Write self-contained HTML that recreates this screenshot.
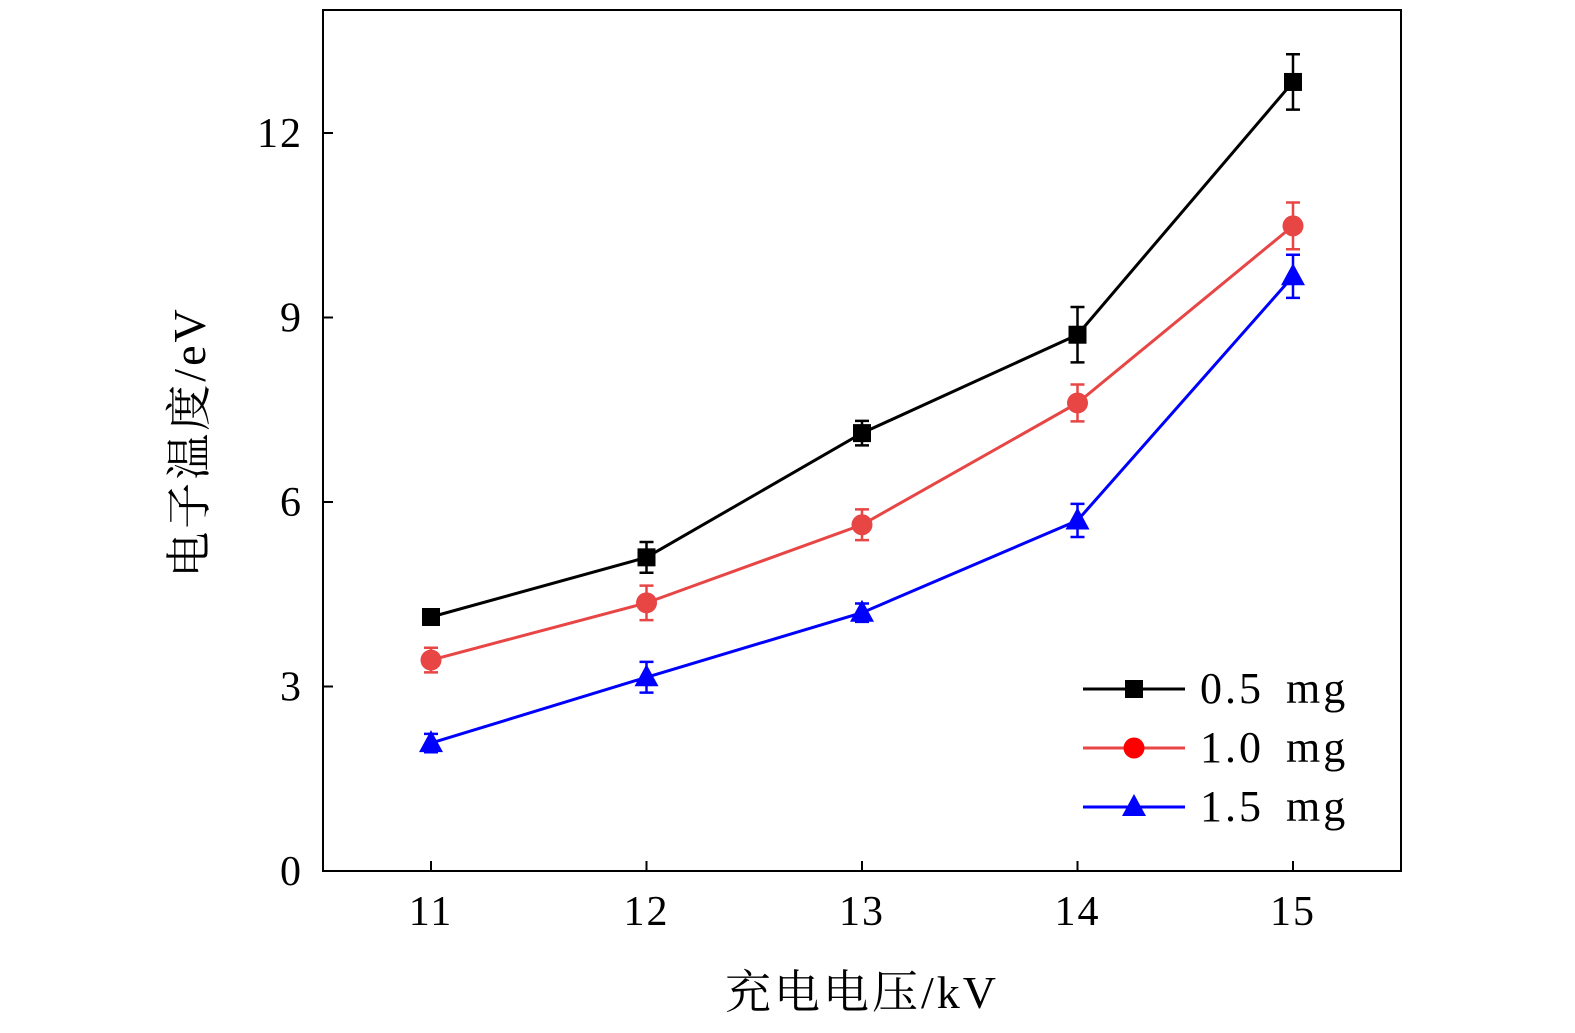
<!DOCTYPE html>
<html><head><meta charset="utf-8"><style>
html,body{margin:0;padding:0;background:#fff;}
svg{display:block;}
text{font-family:"Liberation Serif","Noto Serif CJK SC",serif;fill:#000;}
</style></head><body>
<svg id="chart" width="1575" height="1033">
<rect x="323" y="10" width="1078" height="861" fill="none" stroke="#000" stroke-width="2"/>
<g id="axes"></g>
<g id="series"></g>
<text x="862" y="1008" font-size="46" letter-spacing="3" text-anchor="middle">充电电压/kV</text>
<text transform="translate(205,442) rotate(-90)" font-size="46" letter-spacing="3" text-anchor="middle">电子温度/eV</text>
<g id="legend"></g>
</svg>
<script>
const categories=[11,12,13,14,15];
const yTicks=[0,3,6,9,12];
const seriesNames=["0.5 mg","1.0 mg","1.5 mg"];
const black=[4.13,5.1,7.12,8.72,12.83];
const blackErr=[0.1,0.25,0.2,0.45,0.45];
const red=[3.43,4.36,5.63,7.61,10.49];
const redErr=[0.2,0.28,0.25,0.3,0.38];
const blue=[2.08,3.15,4.2,5.7,9.67];
const blueErr=[0.15,0.25,0.15,0.27,0.35];
const NS="http://www.w3.org/2000/svg";
const xs=v=>431+(v-11)*215.5;
const ys=v=>871-v*61.5;
function mk(t,a,p){const e=document.createElementNS(NS,t);for(const k in a)e.setAttribute(k,a[k]);p.appendChild(e);return e;}
const axes=document.getElementById('axes');
categories.forEach(c=>{
 const l=mk('line',{x1:xs(c),x2:xs(c),y1:871,y2:861,stroke:'#000','stroke-width':2},axes);
 
 
 const t=mk('text',{x:xs(c),y:925,'font-size':42,'letter-spacing':2,'text-anchor':'middle'},axes);t.textContent=c;
 
 
});
yTicks.forEach(v=>{
 const l=mk('line',{x1:323,x2:333,y1:ys(v),y2:ys(v),stroke:'#000','stroke-width':2},axes);
 
 
 const t=mk('text',{x:303,y:ys(v)+14,'font-size':42,'letter-spacing':2,'text-anchor':'end'},axes);t.textContent=v;
 
 
});
function marker(type,x,y,col,p){
 let e;
 if(type==='sq')e=mk('rect',{x:x-9,y:y-9,width:18,height:18,fill:col},p);
 else if(type==='ci')e=mk('circle',{cx:x,cy:y,r:10.5,fill:col},p);
 else e=mk('polygon',{points:`${x},${y-13} ${x-12},${y+9} ${x+12},${y+9}`,fill:col},p);
 return e;
}
const ser=document.getElementById('series');
const defs=[[black,blackErr,'#000','sq','black'],[red,redErr,'#e84545','ci','red'],[blue,blueErr,'#0000ff','tr','blue']];
defs.forEach(([vals,errs,col,m,nm])=>{
 const g=mk('g',{},ser);
 
 
 const pl=mk('polyline',{points:vals.map((v,i)=>xs(categories[i])+','+ys(v)).join(' '),fill:'none',stroke:col,'stroke-width':3},g);
 
 
 vals.forEach((v,i)=>{
  const x=xs(categories[i]),y1=ys(v+errs[i]),y2=ys(v-errs[i]);
  const eb=mk('path',{d:`M${x},${y1}V${y2}M${x-7},${y1}H${x+7}M${x-7},${y2}H${x+7}`,stroke:col,'stroke-width':2.5,fill:'none'},g);
  
  
  const mm=marker(m,x,ys(v),col,g);
  
  
 });
});
const lg=document.getElementById('legend');


defs.forEach(([v,e,col,m,nm],i)=>{
 const y=689+i*59;
 const g=mk('g',{},lg);
 
 
 mk('line',{x1:1083,x2:1185,y1:y,y2:y,stroke:col,'stroke-width':3},g);
 marker(m,1134,y,col==='#e84545'?'#ff0000':col,g);
 const t=mk('text',{x:1200,y:y+14,'font-size':44,'letter-spacing':3,'word-spacing':8},g);t.textContent=seriesNames[i];
});
</script>
</body></html>
